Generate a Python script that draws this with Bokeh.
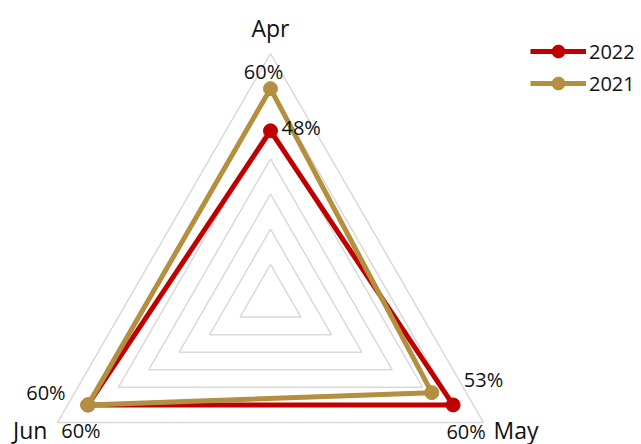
import numpy as np
from bokeh.plotting import figure
from bokeh.models import Legend, LegendItem
from bokeh.core.properties import value
from bokeh.embed import file_html
from bokeh.resources import INLINE

# ---- data ----
months = ["Apr", "May", "Jun"]
series_names = ["2022", "2021"]
values_2022 = [48, 60, 60]
values_2021 = [60, 53, 60]
grid_levels = [10, 20, 30, 40, 50, 60, 70]
label_texts_2022 = ["48%", "60%", "60%"]
label_texts_2021 = ["60%", "53%", "60%"]

# ---- style / geometry ----
W, H = 641, 444
CX, CY = 270, H - 299
RMAX = 246.0
VMAX = 70.0
ANGLES = np.radians([90, -30, 210])
FONT = "Open Sans"
RED = "#c00000"
GOLD = "#b38f3f"
GRIDC = "#d9d9d9"
TXT = "#111111"


def polar(vals):
    r = np.asarray(vals, dtype=float) / VMAX * RMAX
    return CX + r * np.cos(ANGLES), CY + r * np.sin(ANGLES)


p = figure(width=W, height=H, x_range=(0, W), y_range=(0, H), min_border=0,
           toolbar_location=None, output_backend="svg")
p.axis.visible = False
p.grid.visible = False
p.outline_line_color = None
p.background_fill_color = "white"

# grid rings
for lv in grid_levels:
    gx, gy = polar([lv] * 3)
    p.line(list(gx) + [gx[0]], list(gy) + [gy[0]], line_color=GRIDC, line_width=1.5)

# series
renderers = {}
for name, vals, col in [("2022", values_2022, RED), ("2021", values_2021, GOLD)]:
    x, y = polar(vals)
    ln = p.line(list(x) + [x[0]], list(y) + [y[0]], line_color=col, line_width=5,
                line_join="round")
    sc = p.scatter(x, y, size=14, fill_color=col, line_color=col)
    renderers[name] = [ln, sc]

# month labels
ax, ay = polar([VMAX] * 3)
month_offsets = [(0, -26), (10, 7), (-10, 7)]
month_align = ["center", "left", "right"]
for i, m in enumerate(months):
    p.text([ax[i]], [ay[i]], text=[m], text_font=value(FONT), text_font_size="23px",
           text_align=month_align[i], text_baseline="middle",
           x_offset=month_offsets[i][0], y_offset=month_offsets[i][1], text_color=TXT)

# data labels
x22, y22 = polar(values_2022)
x21, y21 = polar(values_2021)
lab22_off = [(11, -3), (13, 27), (-7, 26)]
lab22_align = ["left", "center", "center"]
lab21_off = [(-7, -17), (32, -13), (-42, -12)]
lab21_align = ["center", "left", "center"]
for i in range(3):
    p.text([x22[i]], [y22[i]], text=[label_texts_2022[i]], text_font=value(FONT),
           text_font_size="20px", text_align=lab22_align[i], text_baseline="middle",
           x_offset=lab22_off[i][0], y_offset=lab22_off[i][1], text_color=TXT)
    p.text([x21[i]], [y21[i]], text=[label_texts_2021[i]], text_font=value(FONT),
           text_font_size="20px", text_align=lab21_align[i], text_baseline="middle",
           x_offset=lab21_off[i][0], y_offset=lab21_off[i][1], text_color=TXT)

legend = Legend(items=[LegendItem(label=n, renderers=renderers[n]) for n in series_names],
                location=(530, 345), glyph_width=56, glyph_height=32, label_height=20,
                spacing=0, padding=0, margin=0, label_standoff=3,
                label_text_font=FONT, label_text_font_size="20px", label_text_color=TXT,
                border_line_color=None, background_fill_alpha=0)
p.add_layout(legend)

open("out.html", "w").write(file_html(p, INLINE))
